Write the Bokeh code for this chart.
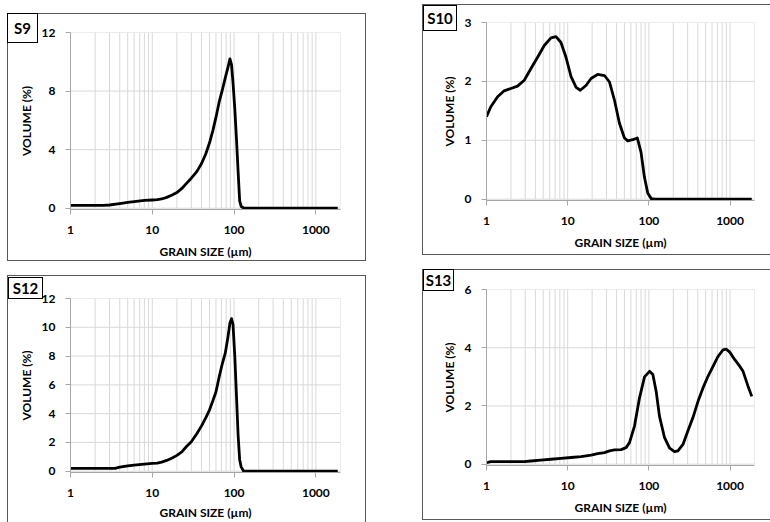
from bokeh.plotting import figure
from bokeh.models import Range1d, FixedTicker, Spacer, Div
from bokeh.layouts import row, column
from bokeh.embed import file_html
from bokeh.resources import INLINE

# ---------------- data ----------------
x_major = [1, 10, 100, 1000]
x_major_labels = ["1", "10", "100", "1000"]
x_minor = [2, 3, 4, 5, 6, 7, 8, 9, 20, 30, 40, 50, 60, 70, 80, 90,
           200, 300, 400, 500, 600, 700, 800, 900, 2000]

s9_x = [1, 1.5, 2, 2.5, 3, 4, 5, 6, 8, 10, 11.5, 13, 15, 17.5, 20, 23, 26, 30, 35, 40,
        45, 50, 55, 60, 66, 72, 78, 84, 89, 93, 97, 102, 107, 112, 117, 122, 130, 140,
        200, 500, 1000, 1850]
s9_y = [0.2, 0.2, 0.2, 0.2, 0.22, 0.32, 0.4, 0.45, 0.53, 0.56, 0.58, 0.63, 0.74, 0.9, 1.07,
        1.35, 1.68, 2.05, 2.5, 3.05, 3.7, 4.45, 5.3, 6.2, 7.3, 8.1, 8.9, 9.6, 10.2, 9.8,
        8.6, 6.8, 4.7, 2.5, 0.5, 0.12, 0.03, 0, 0, 0, 0, 0]

s12_x = [1, 1.5, 2, 2.5, 3, 3.5, 4, 5, 6, 8, 10, 11.5, 13, 15, 17.5, 20, 23, 26, 30, 35,
         40, 45, 50, 55, 60, 66, 72, 78, 84, 89, 93, 97, 102, 107, 112, 117, 122, 130,
         140, 200, 500, 1000, 1850]
s12_y = [0.2, 0.2, 0.2, 0.2, 0.2, 0.2, 0.28, 0.37, 0.43, 0.5, 0.54, 0.57, 0.63, 0.75, 0.92,
         1.1, 1.35, 1.7, 2.05, 2.6, 3.15, 3.7, 4.25, 4.9, 5.5, 6.6, 7.5, 8.2, 9.3, 10.3,
         10.6, 10.2, 8.0, 5.2, 2.5, 0.8, 0.3, 0.03, 0, 0, 0, 0, 0]

s10_x = [1, 1.13, 1.37, 1.65, 2.0, 2.41, 2.92, 3.53, 4.26, 5.15, 6.22, 7.18, 8.27, 9.53,
         11, 12.7, 14.3, 16.8, 19.4, 23.4, 28.4, 32.7, 37.7, 43.4, 50, 55, 63, 72, 80,
         88, 97, 107, 120, 200, 500, 1000, 1850]
s10_y = [1.40, 1.57, 1.74, 1.84, 1.88, 1.92, 2.02, 2.22, 2.41, 2.61, 2.74, 2.76, 2.66, 2.41,
         2.08, 1.90, 1.85, 1.93, 2.05, 2.12, 2.10, 1.99, 1.68, 1.29, 1.04, 0.99, 1.01,
         1.04, 0.80, 0.38, 0.10, 0.01, 0, 0, 0, 0, 0]

s13_x = [1, 1.13, 2.92, 3.53, 4.68, 6.2, 8.27, 11, 14.6, 19.4, 23.4, 28.4, 32.7, 37.7,
         45.5, 52.4, 57.7, 66.5, 76.7, 88.4, 102, 112, 123, 135, 156, 180, 207, 228, 263,
         302, 349, 403, 464, 535, 617, 711, 820, 901, 991, 1143, 1318, 1446, 1664, 1850]
s13_y = [0.05, 0.09, 0.09, 0.11, 0.14, 0.17, 0.2, 0.23, 0.26, 0.31, 0.36, 0.40, 0.46, 0.49,
         0.5, 0.57, 0.74, 1.31, 2.28, 3.0, 3.19, 3.08, 2.5, 1.65, 0.91, 0.55, 0.43, 0.46,
         0.68, 1.14, 1.6, 2.16, 2.62, 3.02, 3.36, 3.7, 3.93, 3.95, 3.85, 3.59, 3.36, 3.19,
         2.68, 2.33]

s9_yticks = [0, 4, 8, 12]
s12_yticks = [0, 2, 4, 6, 8, 10, 12]
s10_yticks = [0, 1, 2, 3]
s13_yticks = [0, 2, 4, 6]

X_START, X_END = 1, 2000

FONT = "Lato"
EDGE = "#595959"
MAJOR_GRID = "#d9d9d9"
MINOR_GRID = "#d9d9d9"
AXIS_GRAY = "#a6a6a6"


def panel(name, xs, ys, ymax, yticks, W, H, ml, mt, fh, box, shadow,
          xl_standoff=7, xtick_standoff=11):
    mb = H - mt - fh
    fw = 270 if W > 350 else 268
    mr = W - ml - fw
    p = figure(width=W, height=H, x_axis_type="log",
               x_range=Range1d(X_START, X_END), y_range=Range1d(-ymax * 1.3 / fh, ymax),
               output_backend="svg", toolbar_location=None,
               min_border_left=ml, min_border_right=mr,
               min_border_top=mt, min_border_bottom=mb,
               styles={"box-shadow": shadow})
    p.outline_line_color = None
    p.background_fill_color = "white"
    p.border_fill_color = None

    xt = FixedTicker(ticks=x_major, minor_ticks=x_minor)
    p.xaxis.ticker = xt
    p.xaxis.major_label_overrides = dict(zip(x_major, x_major_labels))
    p.yaxis.ticker = FixedTicker(ticks=yticks)

    # all grid lines in one segment renderer, beneath the curve
    p.xgrid.visible = False
    p.ygrid.visible = False
    vx = x_minor + x_major
    gx0 = vx + [X_START] * len(yticks)
    gx1 = vx + [X_END] * len(yticks)
    gy0 = [0] * len(vx) + yticks
    gy1 = [ymax] * len(vx) + yticks
    gcol = [MINOR_GRID] * len(x_minor) + [MAJOR_GRID] * (len(x_major) + len(yticks))
    p.segment(x0=gx0, x1=gx1, y0=gy0, y1=gy1, line_color=gcol, line_width=1)

    for ax in (p.xaxis, p.yaxis):
        ax.axis_line_color = AXIS_GRAY
        ax.major_tick_line_color = AXIS_GRAY
        ax.major_tick_out = 5
        ax.major_tick_in = 0
        ax.minor_tick_line_color = None
        ax.major_label_text_font = FONT
        ax.major_label_text_font_style = "bold"
        ax.major_label_text_font_size = "12px"
        ax.major_label_text_color = "black"
        ax.axis_label_text_font = FONT
        ax.axis_label_text_font_style = "bold"
        ax.axis_label_text_font_size = "12px"
        ax.axis_label_text_color = "black"
    p.xaxis.axis_label = "GRAIN SIZE (µm)"
    p.yaxis.axis_label = "VOLUME (%)"
    p.xaxis.major_label_standoff = xtick_standoff
    p.xaxis.axis_label_standoff = xl_standoff
    p.yaxis.major_label_standoff = 10
    p.yaxis.axis_label_standoff = 5

    p.line(xs, ys, line_color="black", line_width=2.8, line_join="round")

    # sample tag box in the top-left corner of the panel
    bx0, by0, bw, bh = box
    tag = Div(text=name, width=bw, height=bh,
              margin=(by0 - H, 0, H - by0 - bh, bx0),
              styles={"border": "1px solid black", "background-color": "white",
                      "box-sizing": "border-box", "font-family": FONT,
                      "font-weight": "bold", "font-size": "15px", "color": "black",
                      "text-align": "center", "line-height": f"{bh - 2}px",
                      "overflow": "hidden"})
    return column(p, tag)


FULL = f"inset 0 0 0 1px {EDGE}"
NO_BOTTOM = f"inset 1px 1px 0 0 {EDGE}, inset -1px 0 0 0 {EDGE}"
NO_RIGHT = f"inset 1px 1px 0 0 {EDGE}, inset 0 -1px 0 0 {EDGE}"

c9 = panel("S9", s9_x, s9_y, 12, s9_yticks, 359, 248, 63, 19, 178, (0, 0, 31, 30), FULL)
c12 = panel("S12", s12_x, s12_y, 12, s12_yticks, 359, 247, 63, 23, 176, (1, 2, 35, 22),
            NO_BOTTOM, xl_standoff=5)
c10 = panel("S10", s10_x, s10_y, 3, s10_yticks, 348, 251, 64, 18, 178, (1, 1, 34, 26), NO_RIGHT)
c13 = panel("S13", s13_x, s13_y, 6, s13_yticks, 348, 251, 64, 20, 176, (1, 0, 31, 22), NO_RIGHT)

left = column(Spacer(width=366, height=13),
              row(Spacer(width=7, height=248), c9),
              Spacer(width=366, height=14),
              row(Spacer(width=7, height=247), c12))
right = column(Spacer(width=348, height=4), c10, Spacer(width=348, height=14), c13)
layout = row(left, Spacer(width=56, height=10), right)

open("out.html", "w").write(file_html(layout, INLINE))
